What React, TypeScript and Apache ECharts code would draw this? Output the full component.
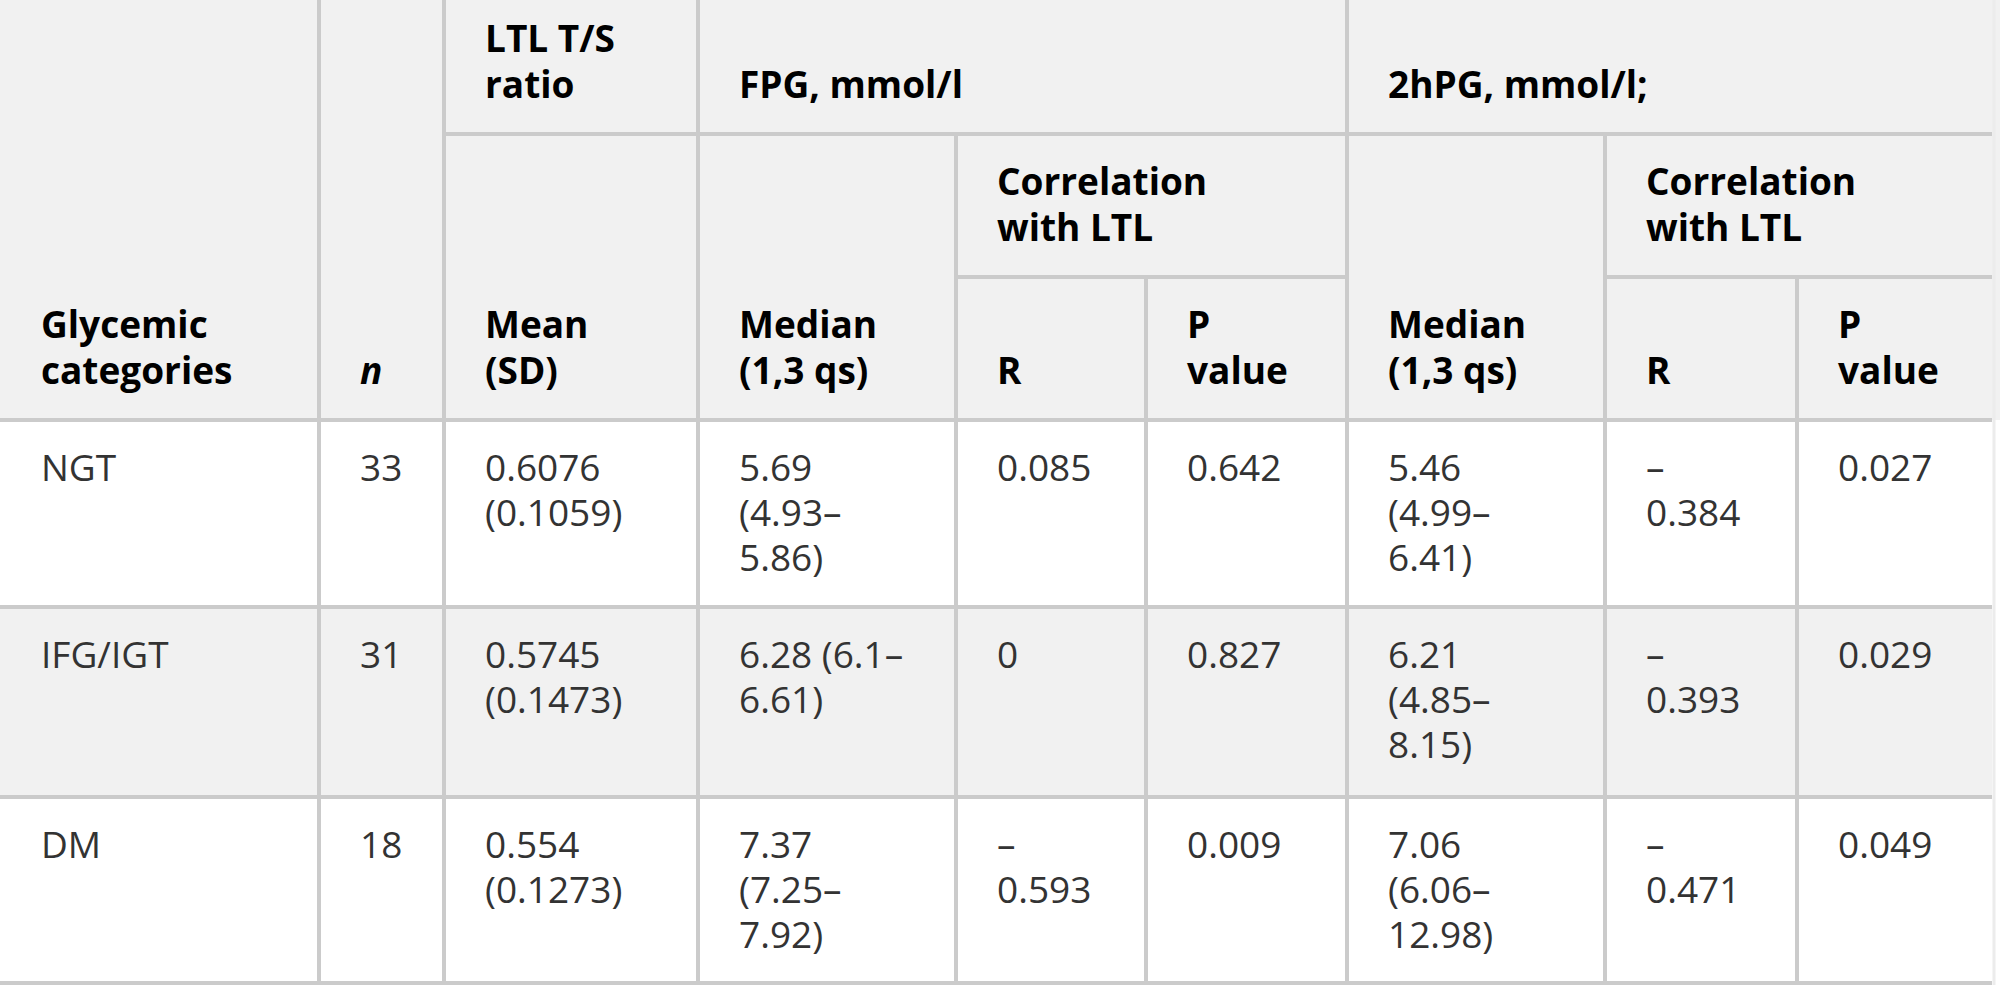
import React, { useEffect, useRef } from 'react';
import * as echarts from 'echarts';

// ---------- data ----------
const categories = ['NGT', 'IFG/IGT', 'DM'];
const sampleSizes = [33, 31, 18];
const ltlMean = ['0.6076', '0.5745', '0.554'];
const ltlSD = ['0.1059', '0.1473', '0.1273'];
const fpgMedian = ['5.69', '6.28', '7.37'];
const fpgQ1 = ['4.93', '6.1', '7.25'];
const fpgQ3 = ['5.86', '6.61', '7.92'];
const fpgR = ['0.085', '0', '–0.593'];
const fpgP = ['0.642', '0.827', '0.009'];
const pg2Median = ['5.46', '6.21', '7.06'];
const pg2Q1 = ['4.99', '4.85', '6.06'];
const pg2Q3 = ['6.41', '8.15', '12.98'];
const pg2R = ['–0.384', '–0.393', '–0.471'];
const pg2P = ['0.027', '0.029', '0.049'];

// header labels
const headerCategory = 'Glycemic\ncategories';
const headerN = 'n';
const headerLtl = 'LTL T/S\nratio';
const headerFpg = 'FPG, mmol/l';
const headerPg2 = '2hPG, mmol/l;';
const headerMean = 'Mean\n(SD)';
const headerMedian = 'Median\n(1,3 qs)';
const headerCorr = 'Correlation\nwith LTL';
const headerR = 'R';
const headerP = 'P\nvalue';

// ---------- layout ----------
const W = 2000;
const H = 995;
const colX = [0, 319, 444, 698, 956, 1146, 1347, 1605, 1797, 1992];
const headY = [0, 134, 277, 420];
const rowY = [420, 607, 797, 983];
const PAD = 41;
const FONT_SIZE = 37;
const FAMILY = "'Open Sans', 'Noto Sans', sans-serif";
const LINE_DATA = 45;
const LINE_HEAD = 46;
const BORDER = '#cbcbcb';
const BORDER_W = 4;
const HEAD_BG = '#f1f1f1';
const STRIPE_BG = '#f1f1f1';
const HEAD_COLOR = '#000000';
const BODY_COLOR = '#333333';

type HeadCell = { c0: number; c1: number; r0: number; r1: number; text: string; italic?: boolean };

const headCells: HeadCell[] = [
  { c0: 0, c1: 1, r0: 0, r1: 3, text: headerCategory },
  { c0: 1, c1: 2, r0: 0, r1: 3, text: headerN, italic: true },
  { c0: 2, c1: 3, r0: 0, r1: 1, text: headerLtl },
  { c0: 3, c1: 6, r0: 0, r1: 1, text: headerFpg },
  { c0: 6, c1: 9, r0: 0, r1: 1, text: headerPg2 },
  { c0: 2, c1: 3, r0: 1, r1: 3, text: headerMean },
  { c0: 3, c1: 4, r0: 1, r1: 3, text: headerMedian },
  { c0: 4, c1: 6, r0: 1, r1: 2, text: headerCorr },
  { c0: 4, c1: 5, r0: 2, r1: 3, text: headerR },
  { c0: 5, c1: 6, r0: 2, r1: 3, text: headerP },
  { c0: 6, c1: 7, r0: 1, r1: 3, text: headerMedian },
  { c0: 7, c1: 9, r0: 1, r1: 2, text: headerCorr },
  { c0: 7, c1: 8, r0: 2, r1: 3, text: headerR },
  { c0: 8, c1: 9, r0: 2, r1: 3, text: headerP },
];

let measureCtx: CanvasRenderingContext2D | null = null;
function measure(text: string, font: string) {
  if (!measureCtx) measureCtx = document.createElement('canvas').getContext('2d');
  measureCtx!.font = font;
  return measureCtx!.measureText(text).width;
}

function wrap(text: string, maxW: number): string[] {
  const font = `normal 400 ${FONT_SIZE}px ${FAMILY}`;
  const tokens: string[] = [];
  let cur = '';
  for (const ch of text) {
    cur += ch;
    if (ch === ' ' || ch === '–') {
      tokens.push(cur);
      cur = '';
    }
  }
  if (cur) tokens.push(cur);
  const lines: string[] = [];
  let line = '';
  for (const t of tokens) {
    const cand = line + t;
    if (line && measure(cand.trimEnd(), font) > maxW) {
      lines.push(line.trimEnd());
      line = t;
    } else {
      line = cand;
    }
  }
  if (line) lines.push(line.trimEnd());
  return lines;
}

function buildGraphic() {
  const els: any[] = [];
  // backgrounds
  els.push({ type: 'rect', shape: { x: 0, y: 0, width: W, height: headY[3] }, style: { fill: HEAD_BG }, silent: true });
  els.push({ type: 'rect', shape: { x: 0, y: rowY[1], width: colX[9], height: rowY[2] - rowY[1] }, style: { fill: STRIPE_BG }, silent: true });

  const line = (x1: number, y1: number, x2: number, y2: number) =>
    els.push({ type: 'line', shape: { x1, y1, x2, y2 }, style: { stroke: BORDER, lineWidth: BORDER_W }, silent: true });

  // header borders
  headCells.forEach((c) => {
    if (c.c1 < 9) line(colX[c.c1], headY[c.r0], colX[c.c1], headY[c.r1] + BORDER_W / 2);
    line(colX[c.c0] - (c.c0 === 0 ? 0 : BORDER_W / 2), headY[c.r1], colX[c.c1], headY[c.r1]);
  });
  // body borders
  for (let i = 1; i < 9; i++) line(colX[i], rowY[0], colX[i], rowY[3] - BORDER_W / 2);
  for (let r = 1; r < 4; r++) line(0, rowY[r], colX[9], rowY[r]);
  // faint right edge
  els.push({ type: 'line', shape: { x1: colX[9] + 2, y1: 0, x2: colX[9] + 2, y2: rowY[3] + 2 }, style: { stroke: '#ececec', lineWidth: 3 }, silent: true });

  // header texts: bottom aligned, last line centre 51px above the cell's bottom border
  headCells.forEach((c) => {
    els.push({
      type: 'text',
      x: colX[c.c0] + PAD,
      y: headY[c.r1] - 51 + LINE_HEAD / 2,
      style: {
        text: c.text,
        fill: HEAD_COLOR,
        fontSize: FONT_SIZE,
        fontFamily: FAMILY,
        fontWeight: 'bold',
        fontStyle: c.italic ? 'italic' : 'normal',
        lineHeight: LINE_HEAD,
        align: 'left',
        verticalAlign: 'bottom',
      },
    });
  });

  // body texts: top aligned, first line centre 46px below the row's top border
  categories.forEach((cat, r) => {
    const cells = [
      cat,
      String(sampleSizes[r]),
      `${ltlMean[r]} (${ltlSD[r]})`,
      `${fpgMedian[r]} (${fpgQ1[r]}–${fpgQ3[r]})`,
      fpgR[r],
      fpgP[r],
      `${pg2Median[r]} (${pg2Q1[r]}–${pg2Q3[r]})`,
      pg2R[r],
      pg2P[r],
    ];
    cells.forEach((txt, c) => {
      const maxW = colX[c + 1] - colX[c] - 2 * 43;
      const lines = wrap(txt, maxW);
      els.push({
        type: 'text',
        x: colX[c] + PAD,
        y: rowY[r] + 46 - LINE_DATA / 2,
        style: {
          text: lines.join('\n'),
          fill: BODY_COLOR,
          fontSize: FONT_SIZE,
          fontFamily: FAMILY,
          fontWeight: 'normal',
          lineHeight: LINE_DATA,
          align: 'left',
          verticalAlign: 'top',
        },
      });
    });
  });
  return els;
}

export default function App() {
  const ref = useRef<HTMLDivElement>(null);
  useEffect(() => {
    document.body.style.margin = '0';
    document.body.style.overflow = 'hidden';
    const chart = echarts.init(ref.current!, undefined, { renderer: 'svg', width: W, height: H });
    chart.setOption({
      animation: false,
      backgroundColor: '#ffffff',
      graphic: { elements: buildGraphic() },
    });
    return () => chart.dispose();
  }, []);
  return <div ref={ref} style={{ position: 'fixed', left: 0, top: 0, width: W, height: H }} />;
}
